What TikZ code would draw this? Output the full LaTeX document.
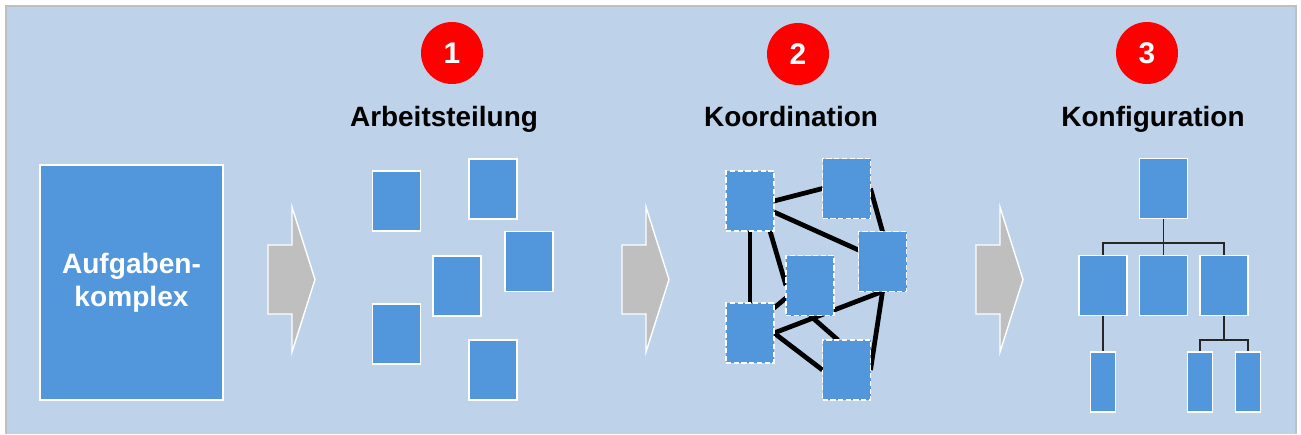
\documentclass[tikz,border=0pt]{standalone}
\usepackage{fontspec}
\setmainfont{Liberation Sans}
\usetikzlibrary{calc}

\definecolor{panelbg}{HTML}{BED2E9}
\definecolor{boxblue}{HTML}{5296DC}
\definecolor{framegray}{HTML}{BFBFBF}
\definecolor{markred}{HTML}{FF0000}

\pgfdeclarelayer{back}
\pgfdeclarelayer{ties}
\pgfsetlayers{back,ties,main}

\begin{document}
\begin{tikzpicture}[x=0.02cm, y=-0.02cm,
  panel/.style={fill=panelbg},
  frame/.style={draw=framegray, line width=1.1pt},
  task/.style={rectangle, fill=boxblue, draw=white, line width=0.8pt,
    inner sep=0pt, outer sep=0pt, minimum width=0.96cm, minimum height=1.2cm},
  linked/.style={task, line width=1pt, dash pattern=on 3pt off 1.4pt},
  slim/.style={task, minimum width=0.5cm},
  bigtask/.style={task, minimum width=3.66cm, minimum height=4.7cm,
    text=white, align=center, font=\fontsize{16}{18.7}\selectfont\bfseries},
  heading/.style={anchor=base, font=\fontsize{15.9}{19}\selectfont\bfseries},
  badge/.style={circle, fill=markred, inner sep=0pt, minimum size=1.24cm,
    text=white, font=\fontsize{17}{20}\selectfont\bfseries},
  tie/.style={line width=2.7pt, black},
  branch/.style={line width=1.1pt, black!85},
  blockarrow/.pic={
    \draw[fill=framegray, draw=white, line width=0.8pt, line join=miter]
      (0,-34.5) -- (24,-34.5) -- (24,-72.5) -- (47,0) -- (24,72.5)
      -- (24,34.5) -- (0,34.5) -- cycle;
  }]

  % canvas and panel
  \useasboundingbox (0,0) rectangle (1301,434);
  \begin{pgfonlayer}{back}
    \fill[white] (0,0) rectangle (1301,434);
    \fill[panel] (6,6) rectangle (1296,434);
    \draw[frame] (6,434) -- (6,6) -- (1296,6) -- (1296,434);
  \end{pgfonlayer}

  % the whole task
  \node[bigtask] (whole) at (131.5,282.5) {Aufgaben-\\komplex};

  % block arrows between the stages
  \pic at (268,279.5) {blockarrow};
  \pic at (622,279.5) {blockarrow};
  \pic at (976,279.5) {blockarrow};

  % numbered badges and headings
  \node[badge] (n1) at (452,53) {1};
  \node[badge] (n2) at (798,54) {2};
  \node[badge] (n3) at (1147,53) {3};
  \node[heading] (h1) at (444,126) {Arbeitsteilung};
  \node[heading] (h2) at (791,126) {Koordination};
  \node[heading] (h3) at (1153,126) {Konfiguration};

  % stage 1: divided sub-tasks
  \node[task] (a1) at (396.5,201) {};
  \node[task] (a2) at (493,189) {};
  \node[task] (a3) at (529,261.5) {};
  \node[task] (a4) at (457,286) {};
  \node[task] (a5) at (396.5,334) {};
  \node[task] (a6) at (493,370) {};

  % stage 2: coordinated sub-tasks, ties drawn beneath the boxes
  \node[linked] (kA) at (750,201) {};
  \node[linked] (kB) at (846.5,188.5) {};
  \node[linked] (kC) at (882.5,261.5) {};
  \node[linked] (kD) at (810,285.5) {};
  \node[linked] (kE) at (750,333) {};
  \node[linked] (kF) at (846.5,370) {};
  \begin{pgfonlayer}{ties}
    \draw[tie] (kA.east) -- (kB.west);
    \draw[tie] ([yshift=-0.22cm]kA.east) -- ([yshift=0.23cm]kC.west);
    \draw[tie] (kA.south) -- (kE.north);
    \draw[tie] ([xshift=-0.08cm]kA.south east) -- (kD.west);
    \draw[tie] (kB.east) -- (kC.north);
    \draw[tie] ([yshift=-0.25cm]kD.west) -- ([yshift=0.5cm]kE.east);
    \draw[tie] (kE.east) -- (kC.south);
    \draw[tie] (kE.east) -- (kF.west);
    \draw[tie] (kD.south) -- ([xshift=-0.17cm]kF.north);
    \draw[tie] (kC.south) -- (kF.east);
  \end{pgfonlayer}

  % stage 3: hierarchy
  \node[task] (t0) at (1163.5,188.5) {};
  \node[task] (m1) at (1103,285.5) {};
  \node[task] (m2) at (1163.5,285.5) {};
  \node[task] (m3) at (1224,285.5) {};
  \node[slim] (b1) at (1103,382) {};
  \node[slim] (b2) at (1200,382) {};
  \node[slim] (b3) at (1248,382) {};
  \coordinate (bar1) at (1163.5,243);
  \coordinate (bar2) at (1224,340);
  \begin{pgfonlayer}{ties}
    \draw[branch] (t0.south) -- (m2.north);
    \draw[branch] (m1.north) |- (bar1) -| (m3.north);
    \draw[branch] (m1.south) -- (b1.north);
    \draw[branch] (m3.south) -- (bar2);
    \draw[branch] (b2.north) |- (bar2) -| (b3.north);
  \end{pgfonlayer}
\end{tikzpicture}
\end{document}
